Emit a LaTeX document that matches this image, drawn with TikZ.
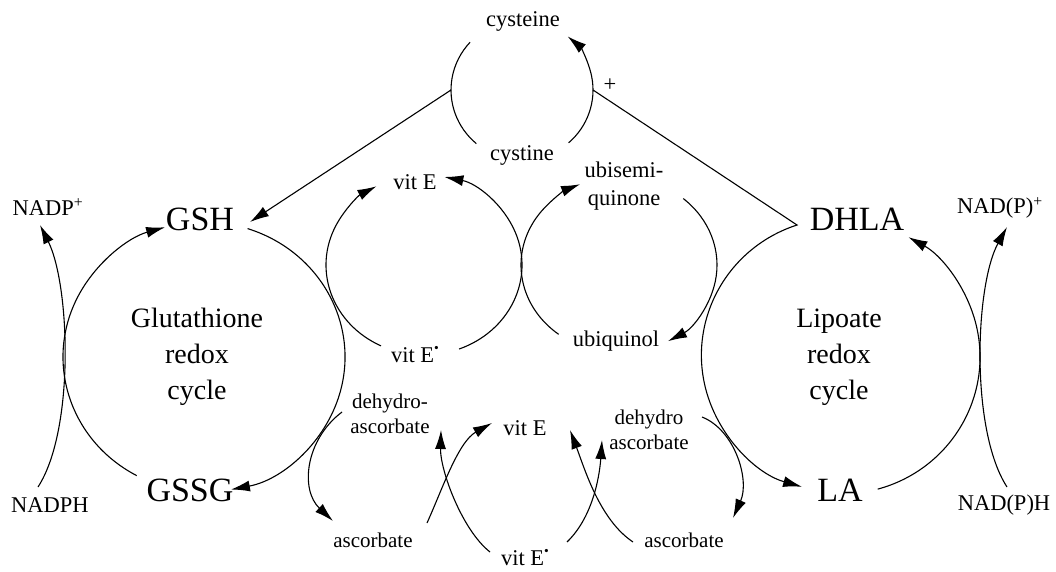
\documentclass[tikz,border=0pt]{standalone}
\usepackage{fontspec}
\setmainfont{Liberation Serif}
\usetikzlibrary{arrows.meta}
\tikzset{
  ln/.style={line width=1.1pt},
  arr/.style={line width=1.1pt,-{Latex[length=19pt,width=11pt]}},
  big/.style={font=\fontsize{34}{36}\selectfont, inner sep=0pt},
  mid/.style={font=\fontsize{28}{36}\selectfont, align=center, inner sep=0pt},
  lab/.style={font=\fontsize{22.5}{28}\selectfont, align=center, inner sep=0pt},
  sml/.style={font=\fontsize{21}{25}\selectfont, align=center, inner sep=0pt},
}
\newcommand{\rdot}{\raisebox{0.45em}{\scalebox{0.6}{\textbullet}}}
\begin{document}
\begin{tikzpicture}[x=1pt,y=-1pt]
\useasboundingbox (0,0) rectangle (1056,572);

% ---------- labels ----------
\node[lab] (cysteine) at (523,21) {cysteine};
\node[lab] (cystine) at (522,155) {cystine};
\node[lab] (plus) at (610,85) {+};
\node[big] (GSH) at (200,219) {GSH};
\node[big] (GSSG) at (190,490) {GSSG};
\node[big] (DHLA) at (857,219) {DHLA};
\node[big] (LA) at (840,490) {LA};
\node[mid] (glut) at (197,357) {Glutathione\\redox\\cycle};
\node[mid] (lip) at (839,357) {Lipoate\\redox\\cycle};
\node[lab] (vitEt) at (415,182) {vit E};
\node[lab] (vitErt) at (415,355) {vit E\rdot};
\node[lab] (ubisemi) at (624,186) {ubisemi-\\quinone};
\node[lab] (ubiquinol) at (616,341) {ubiquinol};
\node[sml] (dhaL) at (390,414) {dehydro-\\ascorbate};
\node[lab] (vitEb) at (525,428) {vit E};
\node[sml] (dhaR) at (649,430) {dehydro\\ascorbate};
\node[sml] (ascL) at (373,540) {ascorbate};
\node[sml] (ascR) at (684,540) {ascorbate};
\node[lab] (vitErb) at (525,558) {vit E\rdot};
\node[lab] (nadp) at (48,207) {NADP\textsuperscript{+}};
\node[lab] (nadph) at (50,505) {NADPH};
\node[lab] (nadpp) at (1000,208) {NAD(P)\textsuperscript{+}};
\node[lab] (nadpph) at (1004,505) {NAD(P)H};

% ---------- anchor coordinates ----------
\coordinate (cysL) at (451,90);
\coordinate (cysR) at (593,90);
\coordinate (gshTip) at (250,222);
\coordinate (dhlaL) at (797,225);

% ---------- cysteine / cystine cycle ----------
\draw[ln] ([shift={(130:71 and 70)}]522,90) arc[start angle=130,end angle=223,x radius=71,y radius=70];
\draw[arr] ([shift={(49:71 and 70)}]522,90) arc[start angle=49,end angle=-50,x radius=71,y radius=70];
\draw[arr] (cysL) -- (gshTip);
\draw[arr] (cysR) -- (dhlaL) arc[start angle=251.8,end angle=106,x radius=139,y radius=137];

% ---------- glutathione cycle ----------
\draw[arr] ([shift={(118.5:141 and 135)}]204,357) arc[start angle=118.5,end angle=254,x radius=141,y radius=135];
\draw[arr] ([shift={(-72:141 and 135)}]204,357) arc[start angle=-72,end angle=79,x radius=141,y radius=135];
\draw[arr] (38,487) .. controls (75,430) and (70,285) .. (40,225);

% ---------- lipoate cycle ----------
\draw[arr] ([shift={(74.7:139 and 137)}]841,357) arc[start angle=74.7,end angle=-61,x radius=139,y radius=137];
\draw[arr] (1007,487) .. controls (970,430) and (975,285) .. (1007,227);

% ---------- vitamin E cycle (upper) ----------
\draw[arr] ([shift={(116:98 and 90)}]424,265) arc[start angle=116,end angle=241,x radius=98,y radius=90];
\draw[arr] ([shift={(69:98 and 90)}]424,265) arc[start angle=69,end angle=-78,x radius=98,y radius=90];

% ---------- ubiquinone cycle ----------
\draw[arr] ([shift={(128:98 and 88)}]619,265) arc[start angle=128,end angle=246.6,x radius=98,y radius=88];
\draw[arr] ([shift={(-49:98 and 88)}]619,265) arc[start angle=-49,end angle=60,x radius=98,y radius=88];

% ---------- ascorbate / vit E (lower) ----------
\draw[arr] (342,412) .. controls (305,440) and (300,490) .. (333,521);
\draw[arr] (427,523) .. controls (442,490) and (458,442) .. (492,423);
\draw[arr] (490,552) .. controls (462,530) and (440,470) .. (441,430);
\draw[arr] (702,417) .. controls (735,430) and (750,480) .. (733,518);
\draw[arr] (633,542) .. controls (600,520) and (585,470) .. (570,430);
\draw[arr] (567,542) .. controls (595,515) and (600,470) .. (602,440);
\end{tikzpicture}
\end{document}
